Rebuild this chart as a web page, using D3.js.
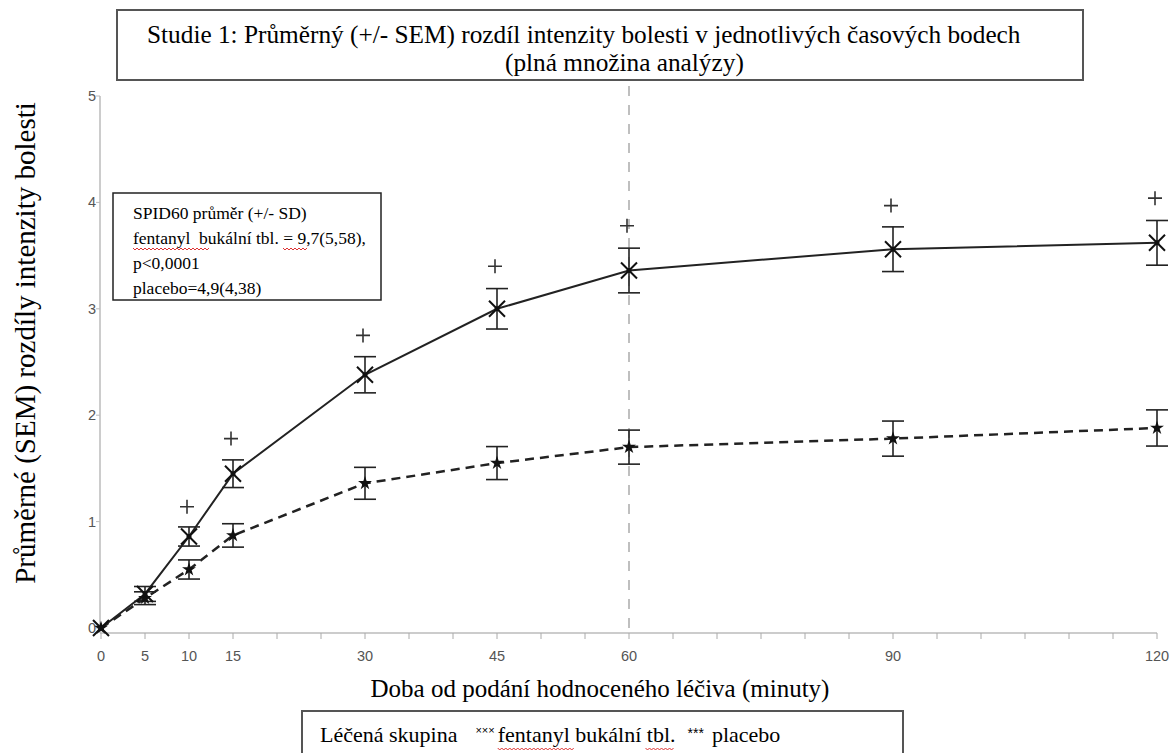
<!DOCTYPE html>
<html><head><meta charset="utf-8">
<script src="https://cdn.jsdelivr.net/npm/d3@7"></script>
<style>body{margin:0;background:#fff}svg{display:block}</style>
</head><body><svg id="c" width="1170" height="753"></svg>
<script>
const times = [0,5,10,15,30,45,60,90,120];
const fentanylMean = [0,0.32,0.86,1.45,2.38,3.0,3.36,3.56,3.62];
const fentanylSEM = [0.05,0.07,0.09,0.13,0.17,0.19,0.21,0.21,0.21];
const placeboMean = [0,0.28,0.55,0.87,1.36,1.55,1.70,1.78,1.88];
const placeboSEM = [0.03,0.06,0.09,0.11,0.15,0.155,0.16,0.165,0.17];
const sigTimes = [10,15,30,45,60,90,120];
const sigValues = [1.14,1.78,2.75,3.40,3.78,3.97,4.04];
const xTickLabels = [0,5,10,15,30,45,60,90,120];
const yTicks = [0,1,2,3,4,5];
const refTime = 60;

const svg = d3.select("#c");
const serif = "'Liberation Serif','Times New Roman',serif";
const sans = "'Liberation Sans',Arial,sans-serif";

const x = d3.scaleLinear().domain([0,120]).range([101,1157]);
const y = d3.scaleLinear().domain([0,5]).range([628,96]);
const axisY = 633;

// title box
svg.append("rect").attr("x",117).attr("y",10).attr("width",966).attr("height",70)
  .attr("fill","#fff").attr("stroke","#555").attr("stroke-width",2);
svg.append("text").attr("x",147).attr("y",43).attr("font-family",serif).attr("font-size",25.3)
  .text("Studie 1: Průměrný (+/- SEM) rozdíl intenzity bolesti v jednotlivých časových bodech");
svg.append("text").attr("x",505).attr("y",71).attr("font-family",serif).attr("font-size",25.3)
  .text("(plná množina analýzy)");

// y axis
svg.append("line").attr("x1",100).attr("x2",100).attr("y1",y(5)).attr("y2",axisY)
  .attr("stroke","#bbb").attr("stroke-width",1.5);
svg.selectAll(".yt").data(yTicks).join("line").attr("x1",96).attr("x2",100)
  .attr("y1",d=>y(d)).attr("y2",d=>y(d)).attr("stroke","#bbb");
svg.selectAll(".yl").data(yTicks).join("text").attr("x",96).attr("y",d=>y(d)+5)
  .attr("text-anchor","end").attr("font-family",sans).attr("font-size",14.5).attr("fill","#555")
  .text(d=>d);

// x axis
svg.append("line").attr("x1",100).attr("x2",x(120)).attr("y1",axisY).attr("y2",axisY)
  .attr("stroke","#bbb").attr("stroke-width",1.5);
svg.selectAll(".xt").data(d3.range(0,121,5)).join("line").attr("x1",d=>x(d)).attr("x2",d=>x(d))
  .attr("y1",axisY).attr("y2",axisY+6).attr("stroke","#aaa");
svg.selectAll(".xl").data(xTickLabels).join("text").attr("x",d=>x(d)).attr("y",axisY+28)
  .attr("text-anchor","middle").attr("font-family",sans).attr("font-size",14.5).attr("fill","#555")
  .text(d=>d);

// reference line
svg.append("line").attr("x1",x(refTime)).attr("x2",x(refTime)).attr("y1",86).attr("y2",axisY)
  .attr("stroke","#aaa").attr("stroke-width",1.5).attr("stroke-dasharray","10,9");

// axis titles
svg.append("text").attr("x",600).attr("y",697).attr("text-anchor","middle")
  .attr("font-family",serif).attr("font-size",25)
  .text("Doba od podání hodnoceného léčiva (minuty)");
svg.append("text").attr("transform","translate(35,343) rotate(-90)").attr("text-anchor","middle")
  .attr("font-family",serif).attr("font-size",29)
  .text("Průměrné (SEM) rozdíly intenzity bolesti");

// SPID box
svg.append("rect").attr("x",113).attr("y",193).attr("width",268).attr("height",107)
  .attr("fill","#fff").attr("stroke","#222").attr("stroke-width",1.5);
const spid = ["SPID60 průměr (+/- SD)","fentanyl  bukální tbl. = 9,7(5,58),","p<0,0001","placebo=4,9(4,38)"];
svg.selectAll(".sp").data(spid).join("text").attr("x",133).attr("y",(d,i)=>219+i*25)
  .attr("font-family",serif).attr("font-size",17.5).style("white-space","pre").text(d=>d);

function wavy(x0,x1,yy){
  let p = `M${x0},${yy}`;
  for(let xx=x0; xx<x1; xx+=4){ p += `L${xx+2},${yy+2}L${xx+4},${yy}`; }
  svg.append("path").attr("d",p).attr("fill","none").attr("stroke","#d33").attr("stroke-width",1);
}
wavy(133,207,248); wavy(283,305,248);

const fData = times.map((t,i)=>({t,m:fentanylMean[i],s:fentanylSEM[i]}));
const pData = times.map((t,i)=>({t,m:placeboMean[i],s:placeboSEM[i]}));
const line = d3.line().x(d=>x(d.t)).y(d=>y(d.m));

svg.append("path").datum(pData).attr("d",line).attr("fill","none").attr("stroke","#222")
  .attr("stroke-width",2.5).attr("stroke-dasharray","9,6");
svg.append("path").datum(fData).attr("d",line).attr("fill","none").attr("stroke","#222")
  .attr("stroke-width",2);

function errbars(data){
  const g = svg.append("g").attr("stroke","#222").attr("stroke-width",1.6);
  data.filter(d=>d.t>0).forEach(d=>{
    const cx=x(d.t);
    g.append("line").attr("x1",cx).attr("x2",cx).attr("y1",y(d.m-d.s)).attr("y2",y(d.m+d.s));
    [d.m-d.s,d.m+d.s].forEach(v=>g.append("line").attr("x1",cx-11).attr("x2",cx+11).attr("y1",y(v)).attr("y2",y(v)));
  });
}
errbars(fData); errbars(pData);

// placebo star markers
svg.selectAll(".ps").data(pData).join("path")
  .attr("d",d3.symbol(d3.symbolStar,60)())
  .attr("transform",d=>`translate(${x(d.t)},${y(d.m)})`).attr("fill","#111");
// fentanyl X markers
const fg = svg.selectAll(".fx").data(fData).join("g")
  .attr("transform",d=>`translate(${x(d.t)},${y(d.m)})`);
fg.append("path").attr("d","M-8,-8L8,8M-8,8L8,-8").attr("stroke","#111").attr("stroke-width",2);
fg.append("circle").attr("r",2.5).attr("fill","#111");

// significance plus markers
svg.selectAll(".sig").data(sigTimes.map((t,i)=>({t,v:sigValues[i]}))).join("path")
  .attr("d","M-7,0H7M0,-7V7").attr("stroke","#333").attr("stroke-width",1.6)
  .attr("transform",d=>`translate(${x(d.t)-2},${y(d.v)})`);

// legend box
svg.append("rect").attr("x",302).attr("y",711).attr("width",601).attr("height",60)
  .attr("fill","#fff").attr("stroke","#555").attr("stroke-width",2);
const legItems = [
  {t:"Léčená skupina", f:serif, s:22, dy:0, gap:18},
  {t:"×××", f:sans, s:11, dy:-8, gap:3},
  {t:"fentanyl bukální tbl.", f:serif, s:22, dy:0, gap:12, wave:true},
  {t:"***", f:sans, s:14, dy:-4, gap:8},
  {t:"placebo", f:serif, s:22, dy:0, gap:0}
];
let lx = 320;
legItems.forEach(it=>{
  const tx = svg.append("text").attr("x",lx).attr("y",742+it.dy).attr("font-family",it.f)
    .attr("font-size",it.s).text(it.t);
  const w = tx.node().getComputedTextLength();
  if(it.wave){ wavy(lx, lx+74, 748); wavy(lx+w-30, lx+w-4, 748); }
  lx += w + it.gap;
});
</script></body></html>
